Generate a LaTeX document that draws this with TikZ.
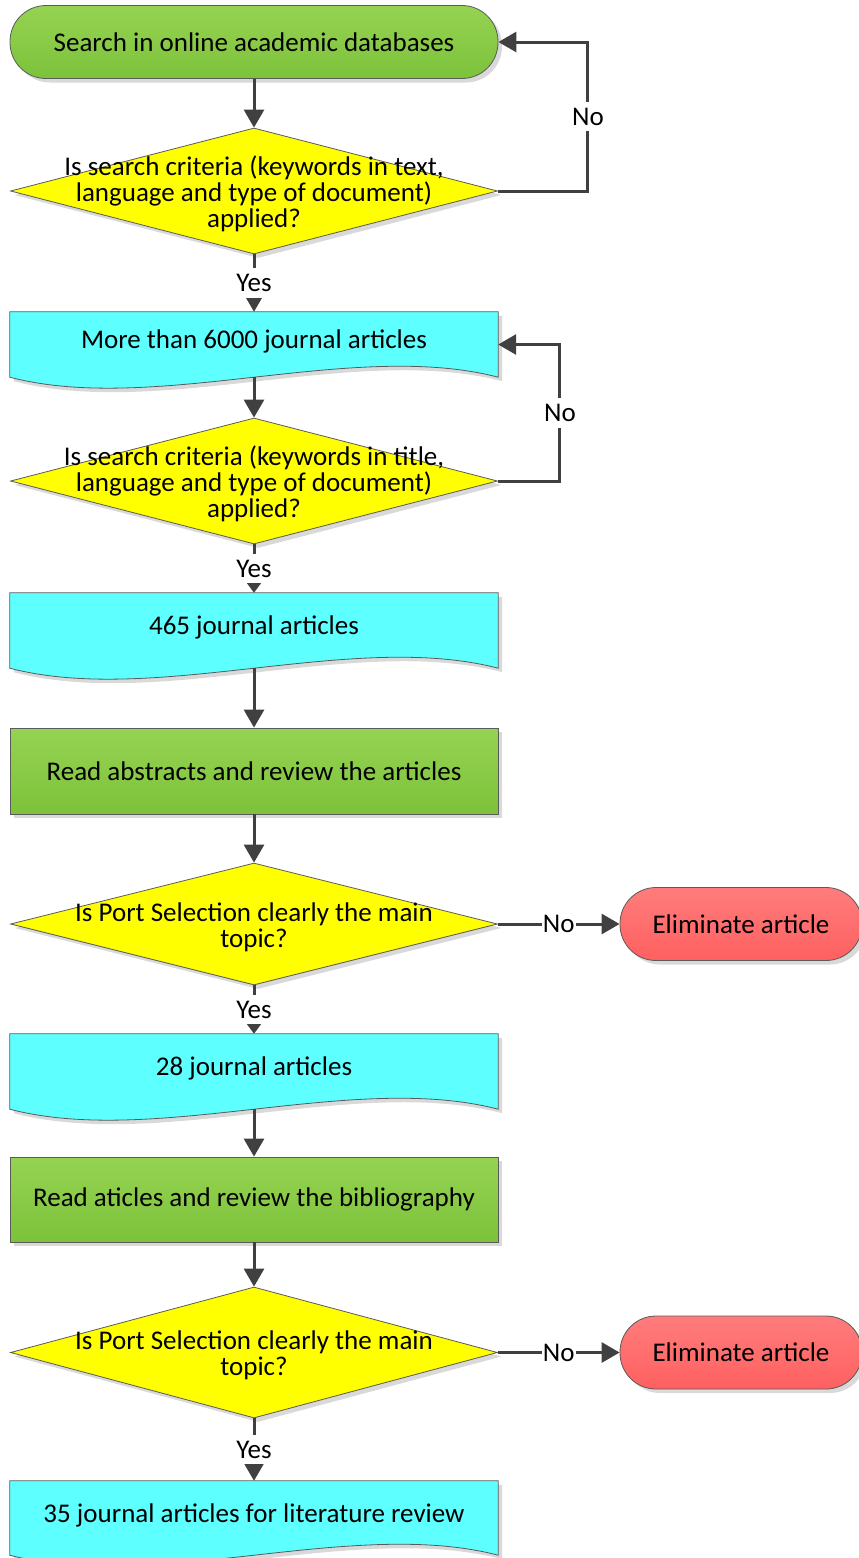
\documentclass[tikz,border=0pt]{standalone}
\usepackage{fontspec}
\setmainfont{Carlito}
\usetikzlibrary{arrows.meta,shapes.geometric,shadows,backgrounds,calc}

\definecolor{greentop}{HTML}{95D352}
\definecolor{greenbot}{HTML}{7DC23B}
\definecolor{redtop}{HTML}{FF7C7C}
\definecolor{redbot}{HTML}{FF6060}
\definecolor{docfill}{HTML}{5EFFFF}
\definecolor{decfill}{HTML}{FFFF00}
\definecolor{edgegray}{HTML}{5A5A5A}
\definecolor{arrowgray}{HTML}{404040}
\definecolor{shadowgray}{HTML}{D9D9D9}

\begin{document}
\begin{tikzpicture}[x=1pt, y=-1pt,
    every node/.style={font=\fontsize{27pt}{26pt}\selectfont},
    box/.style={draw=edgegray, line width=0.8pt,
        drop shadow={shadow xshift=4pt, shadow yshift=-4pt, fill=shadowgray, opacity=1}},
    terminal/.style={box, rectangle, rounded corners=36pt, minimum height=73pt},
    process/.style={box, rectangle, minimum width=488pt, minimum height=86pt,
        top color=greentop, bottom color=greenbot},
    decision/.style={box, diamond, fill=decfill, minimum width=487pt, inner sep=0pt},
    question/.style={align=center, yshift=-3pt},
    docu/.style={rectangle, minimum width=488pt, minimum height=75pt,
        text height=18pt, text depth=10pt},
    flow/.style={draw=arrowgray, line width=3pt, -{Triangle[length=18pt, width=20pt]}},
    flowsmall/.style={flow, -{Triangle[length=10pt, width=14pt]}},
    answer/.style={fill=white, inner xsep=1pt, inner ysep=6pt}
]

    \useasboundingbox (0,0) rectangle (859,1558);

    % first search
    \node[terminal, minimum width=488pt, top color=greentop, bottom color=greenbot] (search) at (254,42) {Search in online academic databases};
    \node[decision, minimum height=126pt,
        label={[question]center:{Is search criteria (keywords in text,\\language and type of document)\\applied?}}] (check1) at (254,191) {};
    \node[docu, minimum height=65pt] (more6000) at (254,344.5) {More than 6000 journal articles};

    % title filter
    \node[decision, minimum height=126pt,
        label={[question]center:{Is search criteria (keywords in title,\\language and type of document)\\applied?}}] (check2) at (254,481) {};
    \node[docu] (art465) at (254,630.5) {465 journal articles};

    % abstracts
    \node[process] (abstracts) at (254,771) {Read abstracts and review the articles};
    \node[decision, minimum height=122pt,
        label={[question]center:{Is Port Selection clearly the main\\topic?}}] (topic1) at (254,924) {};
    \node[terminal, minimum width=242pt, top color=redtop, bottom color=redbot] (elim1) at (741,924) {Eliminate article};
    \node[docu] (art28) at (254,1071.5) {28 journal articles};

    % bibliography
    \node[process, minimum height=85pt] (biblio) at (254,1199.5) {Read aticles and review the bibliography};
    \node[decision, minimum height=131pt,
        label={[question]center:{Is Port Selection clearly the main\\topic?}}] (topic2) at (254,1352.5) {};
    \node[terminal, minimum width=242pt, top color=redtop, bottom color=redbot] (elim2) at (741,1352.5) {Eliminate article};
    \node[docu, minimum height=74pt] (art35) at (254,1518) {35 journal articles for literature review};

    % document shapes
    \begin{scope}[on background layer]
        \foreach \d in {more6000,art465,art28,art35} {
            \begin{scope}[transform canvas={xshift=4pt, yshift=-4pt}]
                \fill[shadowgray] (\d.north west) -- (\d.north east) -- (\d.south east)
                    .. controls ($(\d.south east)+(-146,-38)$) and ($(\d.south west)+(146,38)$) .. (\d.south west) -- cycle;
            \end{scope}
            \filldraw[fill=docfill, draw=edgegray, line width=0.8pt] (\d.north west) -- (\d.north east) -- (\d.south east)
                .. controls ($(\d.south east)+(-146,-38)$) and ($(\d.south west)+(146,38)$) .. (\d.south west) -- cycle;
        }
    \end{scope}

    % connectors
    \draw[flow] (search) -- (check1);
    \draw[flow] (check1) -- node[answer]{Yes} (more6000);
    \draw[flow] (check1.east) -- ++(90,0) |- node[answer, pos=.25]{No} (search.east);
    \draw[flow] (more6000) -- (check2);
    \draw[flowsmall] (check2) -- node[answer]{Yes} (art465);
    \draw[flow] (check2.east) -- ++(62,0) |- node[answer, pos=.25]{No} (more6000.east);
    \draw[flow] (art465) -- (abstracts);
    \draw[flow] (abstracts) -- (topic1);
    \draw[flow] (topic1) -- node[answer, inner ysep=1pt]{No} (elim1);
    \draw[flowsmall] (topic1) -- node[answer]{Yes} (art28);
    \draw[flow] (art28) -- (biblio);
    \draw[flow] (biblio) -- (topic2);
    \draw[flow] (topic2) -- node[answer, inner ysep=1pt]{No} (elim2);
    \draw[flow] (topic2) -- node[answer]{Yes} (art35);

\end{tikzpicture}
\end{document}
